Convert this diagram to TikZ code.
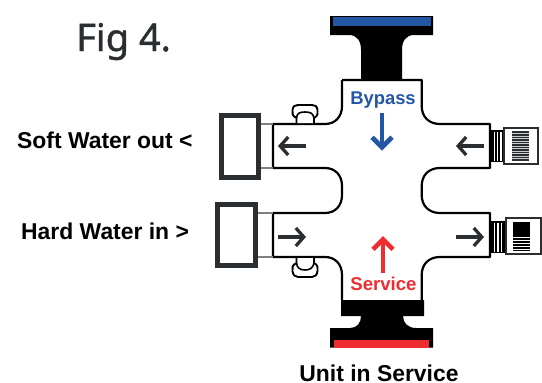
\documentclass[tikz,border=0pt]{standalone}
\usepackage{fontspec}
\setmainfont{Liberation Sans}
\newfontfamily\figfont[FakeBold=1.2]{Noto Sans}
\definecolor{ink}{HTML}{231F20}
\definecolor{darkink}{HTML}{2B2E30}
\definecolor{byblue}{HTML}{2456A6}
\definecolor{svred}{HTML}{EE2D30}
\usetikzlibrary{arrows.meta}
\tikzset{
  outline/.style={draw=black,line width=2.2pt,line join=round},
  flow/.style={line width=3.3pt,darkink,-{Straight Barb[length=8pt,width=18pt,line width=3.3pt]}},
  bigflow/.style={line width=4pt,-{Straight Barb[length=10pt,width=20pt,line width=4.6pt]}},
  cap box/.style={draw=darkink,line width=4.7pt,fill=white},
  grey link/.style={draw=gray,line width=1.2pt},
  label/.style={inner sep=0pt,font=\bfseries\fontsize{22.9}{24}\selectfont,text=black},
  fitting/.style={draw=darkink,line width=2pt,fill=white}
}
\begin{document}
\begin{tikzpicture}[x=1pt,y=-1pt]
\useasboundingbox (0,0) rectangle (542,383);
% top flange
\fill[black] (330,16) -- (433,16) -- (433,35) -- (414,35) .. controls (406,35) and (402,41) .. (402,50) -- (402,80) -- (361,80) -- (361,50) .. controls (361,41) and (357,35) .. (349,35) -- (330,35) -- cycle;
\fill[byblue] (333,17) rectangle (431,26);
% bottom flange
\fill[black] (341,300) -- (424,300) -- (424,316) -- (403,316) .. controls (403,323) and (408,328) .. (416,328) -- (433,328) -- (433,347.5) -- (330,347.5) -- (330,328) -- (350,328) .. controls (357,328) and (361,323) .. (361,316) -- (341,316) -- cycle;
\fill[svred] (334,340) rectangle (428.5,347.5);
% body
\draw[outline] (342,80) -- (421.7,80) -- (421.7,106) .. controls (421.7,117) and (429,124) .. (440,124) -- (490,124) -- (490,168) -- (440,168) .. controls (429,168) and (421.7,175) .. (421.7,186) -- (421.7,195) .. controls (421.7,206) and (429,213) .. (440,213) -- (490,213) -- (490,257) -- (440,257) .. controls (429,257) and (421.7,264) .. (421.7,275) -- (421.7,300);
\draw[outline] (342,80) -- (342,106) .. controls (342,117) and (335,124) .. (325,124) -- (273,124) -- (273,168) -- (325,168) .. controls (335,168) and (342,175) .. (342,186) -- (342,195) .. controls (342,206) and (335,213) .. (325,213) -- (273,213) -- (273,257) -- (325,257) .. controls (335,257) and (342,264) .. (342,275) -- (342,300);
% left caps
\draw[grey link] (260,124) -- (273,124) (260,168) -- (273,168) (258,213) -- (273,213) (258,257) -- (273,257);
\draw[cap box] (221.3,115.3) rectangle (258.7,177.7);
\draw[cap box] (217.8,204.3) rectangle (255.2,265.7);
% knobs
\draw[black,line width=1.9pt,fill=white] (296.5,123) -- (296.5,118) .. controls (292,116) and (292,113) .. (292.5,110) .. controls (293,106) and (295,105) .. (298,105) -- (312,105) .. controls (315,105) and (317,106) .. (317.5,110) .. controls (318,113) and (318,116) .. (314,118) -- (314,123);
\draw[black,line width=1.6pt] (296.5,118) .. controls (297,113) and (300,112) .. (305,112) .. controls (310,112) and (313,113) .. (314,118);
\draw[black,line width=1.9pt,fill=white] (296.5,258) -- (296.5,263) .. controls (292,265) and (292,268) .. (292.5,271) .. controls (293,275) and (295,277) .. (298,277) -- (312,277) .. controls (315,277) and (317,275) .. (317.5,271) .. controls (318,268) and (318,265) .. (314,263) -- (314,258);
\draw[black,line width=1.6pt] (296.5,263) .. controls (297,268) and (300,270) .. (305,270) .. controls (310,270) and (313,268) .. (314,263);
% right fittings
\fill[black] (491,130) rectangle (504,162);
\foreach \x in {494.3,497.6,500.9}{\fill[white] (\x-0.8,131.5) rectangle (\x+0.8,160.5);}
\draw[fitting] (504,128) rectangle (537.5,163.5);
\fill[darkink] (511.5,131) rectangle (529,161);
\foreach \y in {133.5,136,...,160}{\draw[white!75!darkink,line width=0.8pt] (511.5,\y) -- (529,\y);}
\fill[black] (491,221) rectangle (505.5,253);
\foreach \x in {494.5,498,501.5}{\fill[white] (\x-0.9,222.5) rectangle (\x+0.9,251.5);}
\draw[fitting] (506,218) rectangle (540.5,253.5);
\fill[black] (513,222) rectangle (530,251);
\foreach \y in {237,240,...,251}{\draw[white,line width=0.8pt] (513,\y) -- (530,\y);}
% arrows
\coordinate (a1s) at (306,146); \coordinate (a1e) at (278,146);
\coordinate (a2s) at (278,237); \coordinate (a2e) at (306,237);
\coordinate (a3s) at (484,146); \coordinate (a3e) at (456,146);
\coordinate (a4s) at (456,237); \coordinate (a4e) at (484,237);
\coordinate (bs) at (382,113); \coordinate (be) at (382,150.5);
\coordinate (rs) at (383,273); \coordinate (re) at (383,236);
\draw[flow] (a1s) -- (a1e);
\draw[flow] (a2s) -- (a2e);
\draw[flow] (a3s) -- (a3e);
\draw[flow] (a4s) -- (a4e);
\draw[bigflow,byblue] (bs) -- (be);
\draw[bigflow,svred] (rs) -- (re);
% texts
\node[inner sep=0pt,anchor=base west,font=\figfont\fontsize{38}{40}\selectfont,text=darkink] (fig) at (76,51) {Fig 4.};
\node[label,anchor=base west] (soft) at (17,148) {Soft Water out <};
\node[label,anchor=base west] (hard) at (21,239) {Hard Water in >};
\node[label,anchor=base,text=byblue,font=\bfseries\fontsize{18.4}{20}\selectfont] (bypass) at (383,104) {Bypass};
\node[label,anchor=base,text=svred,font=\bfseries\fontsize{18.6}{20}\selectfont] (service) at (383.5,290) {Service};
\node[label,anchor=base] (unit) at (379,381) {Unit in Service};
\end{tikzpicture}
\end{document}
